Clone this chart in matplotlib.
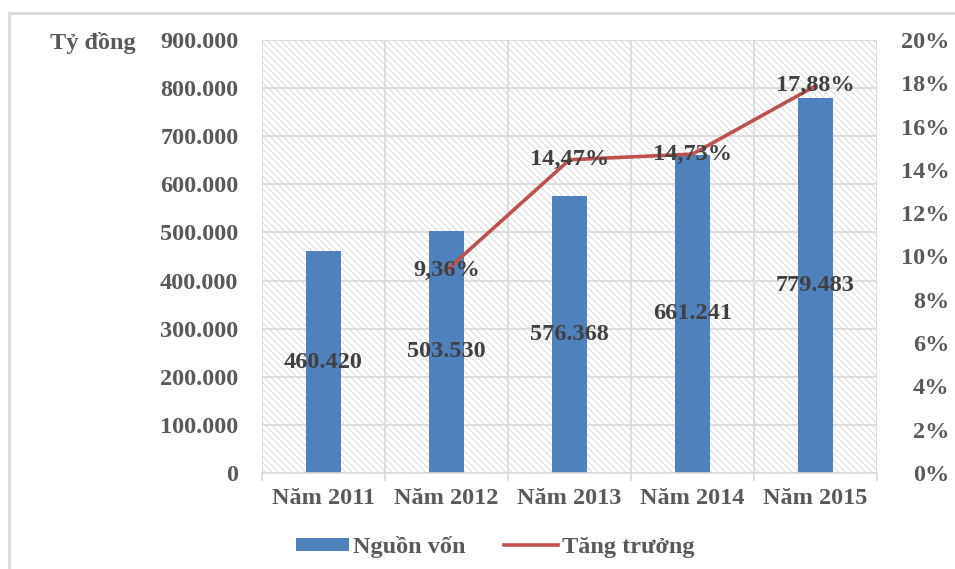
import matplotlib
matplotlib.use("Agg")
import matplotlib.pyplot as plt
from matplotlib.patches import Rectangle, Patch
from matplotlib.lines import Line2D
from matplotlib.ticker import FixedLocator, FuncFormatter

categories = ["Năm 2011", "Năm 2012", "Năm 2013", "Năm 2014", "Năm 2015"]
nguon_von = [460420, 503530, 576368, 661241, 779483]
tang_truong = [None, 9.36, 14.47, 14.73, 17.88]
left_ticks = [0, 100000, 200000, 300000, 400000, 500000, 600000, 700000, 800000, 900000]
right_ticks = [0, 2, 4, 6, 8, 10, 12, 14, 16, 18, 20]

plt.rcParams['font.family'] = ['Liberation Serif', 'DejaVu Serif']
plt.rcParams['font.weight'] = 'bold'
plt.rcParams['hatch.linewidth'] = 0.7
plt.rcParams['hatch.color'] = '#d9d9d9'

FS = 17.5
TICK_C = '#595959'
LBL_C = '#404040'
GRID_C = '#d9d9d9'
BAR_C = '#4f81bd'
LINE_C = '#c0504d'

def vn_thousands(v):
    return f"{int(round(v)):,}".replace(",", ".")

fig = plt.figure(figsize=(9.55, 5.69), dpi=100)
W, H = 955, 569

# outer chart border (extends beyond image on right/bottom)
fig.patches.append(Rectangle((8.5 / W, -0.1), 1.2, 1 - 13 / H + 0.1, transform=fig.transFigure,
                             facecolor='none', edgecolor='#d9d9d9', lw=2))

ax = fig.add_axes([262 / W, 1 - 473 / H, (877 - 262) / W, (473 - 40) / H])
ax.set_facecolor('white')
x = list(range(len(categories)))
ax.set_xlim(-0.5, len(categories) - 0.5)
ax.set_ylim(0, 900000)

# hatched plot area
ax.add_patch(Rectangle((0, 0), 1, 1, transform=ax.transAxes, facecolor='white',
                       edgecolor='#d9d9d9', hatch='\\\\\\\\\\', lw=0, zorder=0.1))

ax.set_axisbelow(True)
ax.yaxis.set_major_locator(FixedLocator(left_ticks))
ax.yaxis.set_major_formatter(FuncFormatter(lambda v, p: vn_thousands(v)))
ax.set_xticks(x)
ax.set_xticklabels(categories)
ax.xaxis.set_minor_locator(FixedLocator([i - 0.5 for i in range(len(categories) + 1)]))
ax.grid(True, which='major', axis='y', color=GRID_C, lw=1.2, zorder=0.5)
ax.grid(True, which='minor', axis='x', color=GRID_C, lw=1.2, zorder=0.5)
ax.tick_params(axis='x', which='major', length=0, pad=11, labelsize=FS, labelcolor=TICK_C)
ax.tick_params(axis='x', which='minor', length=6, color=GRID_C, width=1.2)
ax.tick_params(axis='y', which='major', length=0, pad=17, labelsize=FS, labelcolor=TICK_C)
for s in ['top', 'left', 'right']:
    ax.spines[s].set_visible(False)
ax.spines['bottom'].set_color(GRID_C)
ax.spines['bottom'].set_linewidth(1.2)

bars = ax.bar(x, nguon_von, width=0.29, color=BAR_C, zorder=2)
for xi, v in zip(x, nguon_von):
    ax.text(xi, v / 2, vn_thousands(v), ha='center', va='center', fontsize=FS,
            color=LBL_C, fontweight='bold', zorder=5)

ax2 = ax.twinx()
ax2.set_ylim(0, 20)
ax2.yaxis.set_major_locator(FixedLocator(right_ticks))
ax2.yaxis.set_major_formatter(FuncFormatter(lambda v, p: f"{int(v)}%"))
ax2.tick_params(axis='y', length=0, pad=52, labelsize=FS, labelcolor=TICK_C)
for lab in ax2.get_yticklabels():
    lab.set_horizontalalignment('right')
for s in ax2.spines.values():
    s.set_visible(False)

lx = [xi for xi, v in zip(x, tang_truong) if v is not None]
ly = [v for v in tang_truong if v is not None]
ax2.plot(lx, ly, color=LINE_C, lw=2.6, zorder=3)
for xi, v in zip(lx, ly):
    ax2.text(xi, v, f"{v:.2f}%".replace(".", ","), ha='center', va='center', fontsize=FS,
             color=LBL_C, fontweight='bold', zorder=5)

fig.text(50 / W, 1 - 43 / H, "Tỷ đồng", ha='left', va='center', fontsize=FS,
         color=TICK_C, fontweight='bold')

handles = [Patch(facecolor=BAR_C, edgecolor='none', label='Nguồn vốn'),
           Line2D([0], [0], color=LINE_C, lw=2.6, label='Tăng trưởng')]
leg = fig.legend(handles=handles, loc='center', bbox_to_anchor=(495 / W, 1 - 547 / H), ncol=2,
                 frameon=False, fontsize=FS, handlelength=2.2, handleheight=0.45,
                 handletextpad=0.15, columnspacing=1.6, labelcolor=TICK_C)

fig.savefig("out.png", dpi=100)
